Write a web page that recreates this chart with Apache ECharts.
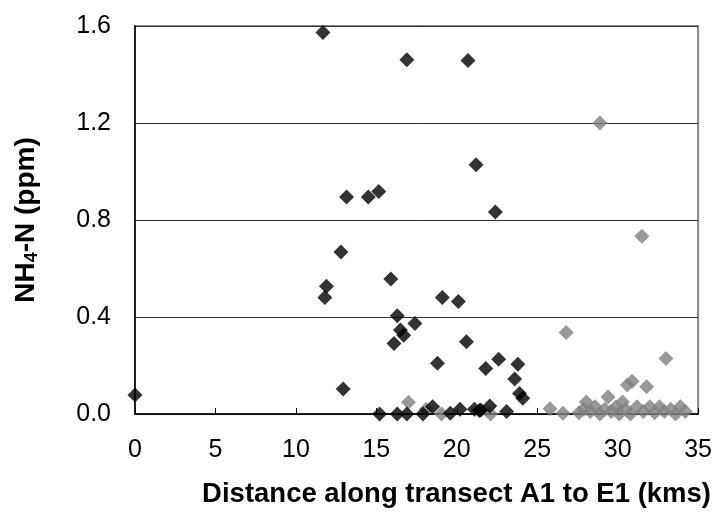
<!DOCTYPE html>
<html>
<head>
<meta charset="utf-8">
<script src="https://cdn.jsdelivr.net/npm/echarts@6/dist/echarts.min.js"></script>
<style>
html,body{margin:0;padding:0;background:#fff;}
#chart{width:715px;height:516px;}
</style>
</head>
<body>
<div id="chart"></div>
<script>
// Series 1 (black diamonds): [distance km, NH4-N ppm]
var blackPoints = [
  [0,0.078],[11.68,1.573],[11.8,0.48],[11.9,0.527],[12.8,0.668],[12.94,0.103],
  [13.15,0.895],[14.5,0.895],[15.15,0.918],[15.2,0.0],[15.9,0.557],[16.1,0.291],
  [16.3,0.405],[16.3,0.0],[16.5,0.346],[16.7,0.325],[16.9,1.461],[16.9,0.0],
  [17.4,0.373],[17.9,0.0],[18.5,0.03],[18.8,0.209],[19.1,0.48],[19.6,0.003],
  [20.1,0.464],[20.2,0.02],[20.6,0.298],[20.7,1.458],[21.1,0.02],[21.2,1.028],
  [21.4,0.014],[21.5,0.016],[21.8,0.188],[22.05,0.033],[22.4,0.833],[22.6,0.226],
  [23.1,0.01],[23.6,0.144],[23.8,0.205],[23.9,0.085],[24.1,0.065]
];
// Series 2 (grey diamonds)
var greyPoints = [
  [17.0,0.048],[18.1,0.02],[19.05,0.0],[22.1,0.0],[25.8,0.022],[26.6,0.003],
  [26.8,0.336],[27.6,0.005],[27.9,0.02],[28.05,0.05],[28.3,0.01],[28.6,0.03],
  [28.9,1.2],[28.9,0.0],[29.2,0.02],[29.4,0.07],[29.6,0.01],[29.9,0.03],
  [30.1,0.0],[30.3,0.05],[30.5,0.02],[30.6,0.12],[30.9,0.135],[30.8,0.0],
  [31.2,0.03],[31.5,0.733],[31.6,0.01],[31.8,0.112],[32.0,0.03],[32.3,0.005],
  [32.6,0.03],[32.9,0.01],[33.0,0.229],[33.3,0.02],[33.6,0.0],[33.9,0.03],[34.2,0.01]
];
var xTicks = [0,5,10,15,20,25,30,35];
var yTicks = [0.0,0.4,0.8,1.2,1.6];
var xTitle = 'Distance along transect A1 to E1 (kms)';

var chart = echarts.init(document.getElementById('chart'), null, {renderer:'canvas'});
var font = '"Liberation Sans", Arial, sans-serif';
chart.setOption({
  animation:false,
  backgroundColor:'#fff',
  grid:{left:135,right:16,top:26,bottom:102,show:true,borderColor:'#888',borderWidth:2,backgroundColor:'transparent'},
  xAxis:{
    type:'value', min:xTicks[0], max:xTicks[xTicks.length-1], interval:5,
    name:xTitle, nameLocation:'middle', nameGap:66,
    nameTextStyle:{fontFamily:font,fontWeight:'bold',fontSize:27.5,color:'#000',padding:[0,0,0,80]},
    axisLine:{show:true,lineStyle:{color:'#000',width:1.5}},
    axisTick:{show:true,inside:true,length:6,lineStyle:{color:'#000'}},
    axisLabel:{fontFamily:font,fontSize:25,color:'#000',margin:24},
    splitLine:{show:false}
  },
  yAxis:{
    type:'value', min:yTicks[0], max:yTicks[yTicks.length-1], interval:0.4,
    name:'{a|NH}{s|4}{a|-N (ppm)}', nameLocation:'middle', nameGap:94, nameRotate:90,
    nameTextStyle:{fontFamily:font,fontWeight:'bold',fontSize:28,color:'#000',
      rich:{a:{fontFamily:font,fontWeight:'bold',fontSize:28,color:'#000'},
            s:{fontFamily:font,fontWeight:'bold',fontSize:18,color:'#000',verticalAlign:'bottom',padding:[12,0,0,0]}}},
    axisLine:{show:true,lineStyle:{color:'#000',width:1.5}},
    axisTick:{show:false},
    axisLabel:{fontFamily:font,fontSize:25,color:'#000',margin:24,formatter:function(v){return v.toFixed(1);}},
    splitLine:{show:true,lineStyle:{color:'#333',width:1}}
  },
  series:[
    {type:'scatter',data:blackPoints,symbol:'diamond',symbolSize:15,itemStyle:{color:'#000'},z:3},
    {type:'scatter',data:greyPoints,symbol:'diamond',symbolSize:15,itemStyle:{color:'#808080'},z:2}
  ]
});
</script>
</body>
</html>
